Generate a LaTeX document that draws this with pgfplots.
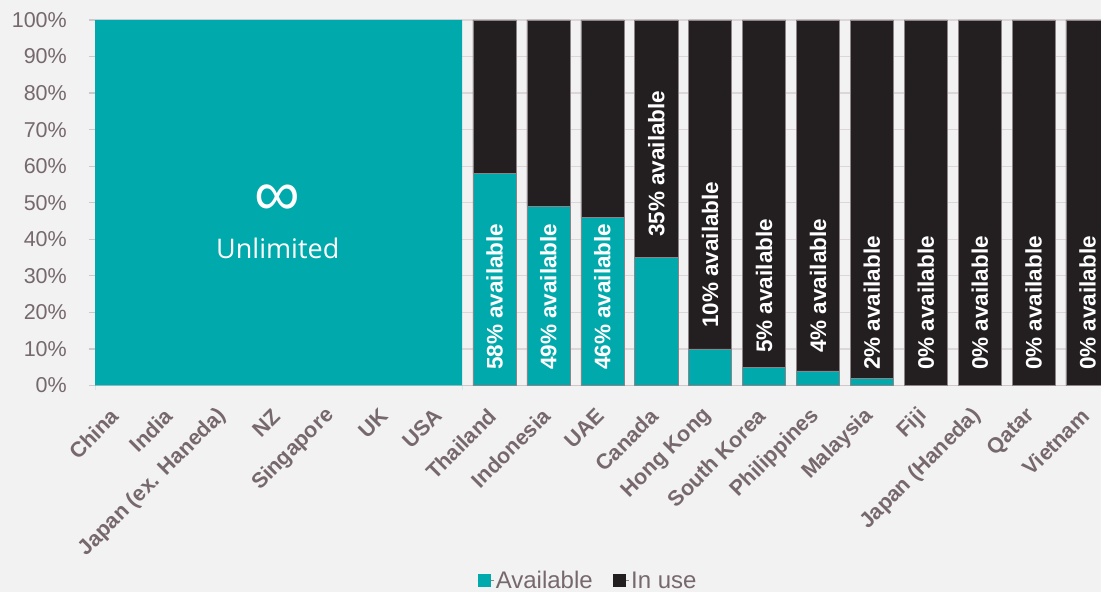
\documentclass[border=0pt]{standalone}
\usepackage{fontspec}
\setmainfont{Liberation Sans}
\newfontfamily\osans{Open Sans}
\usepackage{pgfplots}
\pgfplotsset{compat=1.18}

\definecolor{bg}{HTML}{F2F2F2}
\definecolor{avail}{HTML}{00A9AB}
\definecolor{inuse}{HTML}{231F20}
\definecolor{gridc}{HTML}{DDD6D8}
\definecolor{axisc}{HTML}{CFC8CA}
\definecolor{txt}{HTML}{76686C}
\definecolor{edge}{HTML}{8C8487}

\pgfplotsset{
  base/.style={
    scale only axis, width=1006pt, height=365.5pt,
    xmin=-0.41, xmax=18.25, ymin=0, ymax=100,
    at={(95pt,206.5pt)}, anchor=south west,
  },
}

\begin{document}
\begin{tikzpicture}
\useasboundingbox (0,0) rectangle (1101pt,592pt);
\fill[bg] (0,0) rectangle (1101pt,592pt);

\begin{axis}[
  base,
  ybar stacked, bar width=0.8,
  axis x line*=bottom, axis y line*=left,
  y axis line style={draw=none},
  x axis line style={draw=axisc, line width=1.5pt},
  ymajorgrids, grid style={gridc, line width=1.2pt},
  ytick={0,10,...,100},
  yticklabels={0\%,10\%,20\%,30\%,40\%,50\%,60\%,70\%,80\%,90\%,100\%},
  xtick={0,...,18},
  xticklabels={China,India,Japan (ex. Haneda),NZ,Singapore,UK,USA,Thailand,Indonesia,UAE,Canada,Hong Kong,South Korea,Philippines,Malaysia,Fiji,Japan (Haneda),Qatar,Vietnam},
  xtick style={draw=none},
  ytick style={draw=axisc, line width=1.2pt},
  tick align=outside, major tick length=6pt,
  tick label style={text=txt},
  yticklabel style={font=\fontsize{21.5}{21.5}\selectfont, inner sep=0pt, xshift=-22pt},
  xticklabel style={yshift=-21pt, xshift=-2pt, rotate=45, anchor=east, inner sep=0pt,
    font=\bfseries\fontsize{21.5}{21.5}\selectfont},
  legend style={at={(0.49,-0.534)}, anchor=center, draw=none, fill=none,
    font=\fontsize{24}{24}\selectfont, text=txt,
    /tikz/every even column/.append style={column sep=18pt}},
  legend columns=2,
  legend image code/.code={\path (0pt,0pt) -- (16pt,0pt);
    \fill[#1,draw=none] (0pt,-6.5pt) rectangle (13pt,6.5pt);},
]
\addplot[fill=avail, draw=edge, line width=0.5pt] coordinates {
  (7,58) (8,49) (9,46) (10,35) (11,10) (12,5) (13,4) (14,2)
  (15,0) (16,0) (17,0) (18,0)
};
\addplot[fill=inuse, draw=edge, line width=0.5pt] coordinates {
  (7,42) (8,51) (9,54) (10,65) (11,90) (12,95) (13,96) (14,98)
  (15,100) (16,100) (17,100) (18,100)
};
\legend{Available, In use}
\end{axis}

\begin{axis}[base, hide axis, clip=false]
% the unlimited block over the first seven countries
\addplot[fill=avail, draw=none] coordinates {
  (-0.41,-1.2) (-0.41,100) (6.4,100) (6.4,-1.2)
} \closedcycle;
\addplot[draw=none, mark=none, nodes near coords, point meta=explicit symbolic,
  every node near coord/.append style={rotate=90, anchor=west, inner sep=0pt,
    text=white, font=\bfseries\fontsize{22.5}{22.5}\selectfont}] coordinates {
  (7,4.2) [58\% available]
  (8,4.2) [49\% available]
  (9,4.2) [46\% available]
  (10,40.6) [35\% available]
  (11,15.7) [10\% available]
  (12,8.9) [5\% available]
  (13,8.9) [4\% available]
  (14,4.2) [2\% available]
  (15,4.2) [0\% available]
  (16,4.2) [0\% available]
  (17,4.2) [0\% available]
  (18,4.2) [0\% available]
};
\addplot[draw=none, mark=none, nodes near coords, point meta=explicit symbolic,
  every node near coord/.append style={anchor=center, inner sep=0pt,
    text=white, font=\osans\fontsize{27}{27}\selectfont}] coordinates {
  (2.98,37.6) [Unlimited]
};
\addplot[draw=none, mark=none, nodes near coords, point meta=explicit symbolic,
  every node near coord/.append style={anchor=base, inner sep=0pt,
    text=white, font=\fontsize{64}{64}\selectfont}] coordinates {
  (2.98,46.5) [∞]
};
\end{axis}
\end{tikzpicture}
\end{document}
